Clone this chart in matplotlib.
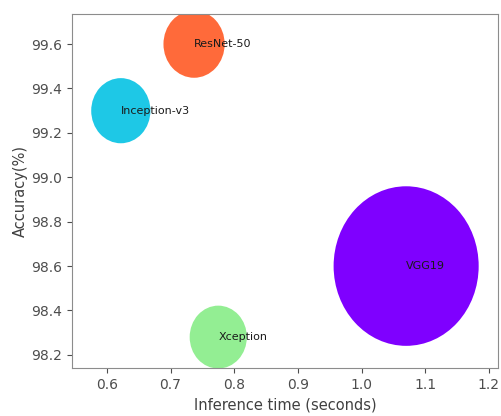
# Bubble chart: accuracy vs inference time for CNN models
import numpy as np
import matplotlib.pyplot as plt
from matplotlib.path import Path

# data
models = ['VGG19', 'Inception-v3', 'Xception', 'ResNet-50']
inference_time = [1.07, 0.622, 0.775, 0.737]
accuracy = [98.6, 99.3, 98.28, 99.6]
bubble_size = [13200, 2200, 2050, 2350]
colors = ['#7f00ff', '#1ec8e6', '#93ee93', '#ff6a3a']

# bubbles in the reference are a little taller than wide
circ = Path.unit_circle()
ellipse = Path(circ.vertices * np.array([1.0, 1.1]), circ.codes)

fig, ax = plt.subplots(figsize=(5.02, 4.16), dpi=100)

ax.scatter(inference_time, accuracy, s=bubble_size, c=colors, marker=ellipse,
           linewidths=0, zorder=2)

# model name written from the bubble centre
for name, x, y in zip(models, inference_time, accuracy):
    ax.text(x, y, name, fontsize=8, va='center', ha='left', color='0.1', zorder=3)

ax.set_xlim(0.545, 1.215)
ax.set_ylim(98.14, 99.735)
ax.set_xticks([0.6, 0.7, 0.8, 0.9, 1.0, 1.1, 1.2])
ax.set_yticks([98.2, 98.4, 98.6, 98.8, 99.0, 99.2, 99.4, 99.6])

ax.set_xlabel('Inference time (seconds)', fontsize=10.5, color='0.25', labelpad=4)
ax.set_ylabel('Accuracy(%)', fontsize=10.5, color='0.25', labelpad=2)
ax.tick_params(labelsize=10, colors='0.3')
for sp in ax.spines.values():
    sp.set_color('0.55')

fig.subplots_adjust(left=0.143, right=0.993, top=0.966, bottom=0.115)
fig.savefig('out.png')
